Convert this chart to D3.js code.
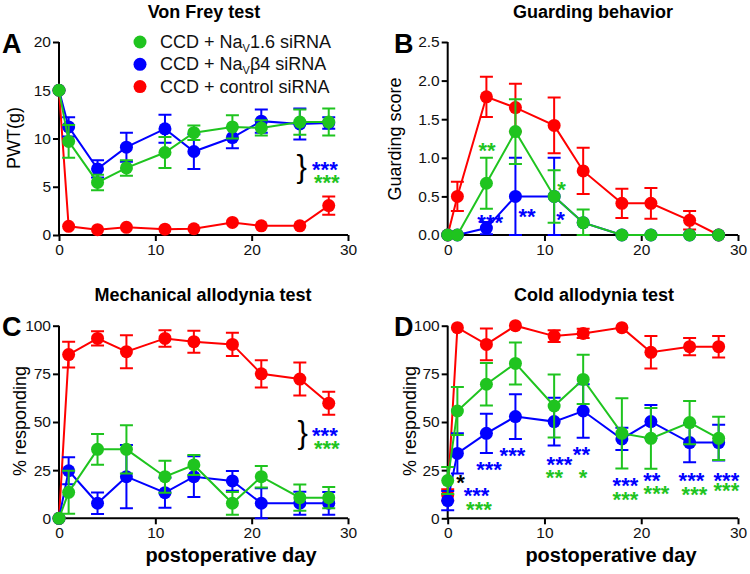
<!DOCTYPE html>
<html><head><meta charset="utf-8">
<script src="https://cdn.jsdelivr.net/npm/d3@7"></script>
<style>
body{margin:0;background:#fff}
svg text{font-family:Arial,"Liberation Sans",Helvetica,sans-serif}
</style>
</head><body>
<svg id="chart" width="750" height="574"></svg>
<script>
// ---------- DATA ----------
const days = [0, 1, 4, 7, 11, 14, 18, 21, 25, 28];
const xTicks = [0, 10, 20, 30];
const seriesKeys = ["green", "blue", "red"];
const legendLabels = [["CCD + Na", "V", "1.6 siRNA"], ["CCD + Na", "V", "β4 siRNA"], ["CCD + control siRNA", "", ""]];

// A: Von Frey
const vfYTicks = [0, 5, 10, 15, 20];
const vfGreen = [15, 9.7, 5.45, 6.95, 8.55, 10.6, 11.2, 11.1, 11.7, 11.7];
const vfGreenErr = [0, 1.7, 0.8, 0.8, 1.6, 0.75, 1.2, 0.8, 1.3, 1.4];
const vfBlue = [15, 11.2, 6.85, 9.1, 11.0, 8.65, 10.1, 11.8, 11.5, 11.6];
const vfBlueErr = [0, 1.0, 0.9, 1.5, 1.45, 1.8, 1.1, 1.2, 1.6, 0.6];
const vfRed = [15, 0.9, 0.55, 0.8, 0.6, 0.65, 1.3, 0.95, 0.95, 3.05];
const vfRedErr = [0, 0, 0, 0, 0, 0, 0, 0, 0, 0.95];

// B: Guarding
const gbYTicks = [0, 0.5, 1.0, 1.5, 2.0, 2.5];
const gbGreen = [0, 0, 0.67, 1.34, 0.5, 0.16, 0, 0, 0, 0];
const gbGreenErr = [0, 0, 0.33, 0.42, 0.34, 0.17, 0, 0, 0, 0];
const gbBlue = [0, 0, 0.09, 0.5, 0.5, 0.16, 0, 0, 0, 0];
const gbBlueErr = [0, 0, 0.08, 0.5, 0.5, 0, 0, 0, 0, 0];
const gbRed = [0, 0.5, 1.79, 1.65, 1.42, 0.83, 0.41, 0.41, 0.19, 0];
const gbRedErr = [0, 0.19, 0.26, 0.31, 0.36, 0.3, 0.19, 0.2, 0.12, 0];

// C: Mechanical allodynia
const pctYTicks = [0, 25, 50, 75, 100];
const maGreen = [0, 13.5, 35.8, 35.8, 21.6, 27.7, 7.8, 21.6, 10.7, 10.7];
const maGreenErr = [0, 11.2, 8, 12.5, 8.3, 5.2, 5.9, 5.6, 6.8, 5.5];
const maBlue = [0, 24.7, 7.8, 21.6, 13.3, 21.6, 19.4, 7.8, 7.8, 7.8];
const maBlueErr = [0, 7, 5.6, 16.4, 7.8, 10.6, 5.1, 7.8, 6, 5.9];
const maRed = [0, 85, 93.4, 86.5, 93.4, 91.7, 90.3, 75, 72.3, 59.7];
const maRedErr = [0, 6.7, 3.7, 8.6, 4.3, 5.7, 6, 7.1, 8.6, 6];

// D: Cold allodynia
const caGreen = [19.6, 55.7, 69.6, 80.4, 58.3, 72.1, 44.1, 41.5, 49.7, 41.5];
const caGreenErr = [7, 12.5, 11, 10.9, 16.4, 12.8, 18.2, 15.8, 11.2, 11.2];
const caBlue = [9.2, 33.7, 44.1, 52.8, 50.2, 55.7, 41.2, 50.2, 39.3, 39.3];
const caBlueErr = [5, 10.4, 10.2, 11.6, 12.4, 13.9, 5.8, 8.6, 10.2, 9.3];
const caRed = [12.1, 99, 90.3, 100, 94.6, 96, 99, 86.2, 89.1, 89.1];
const caRedErr = [3, 0, 8.2, 0, 3, 2.4, 0, 8.4, 4.5, 5.6];

// significance marks: [day, value, label, series]
const starsA = [[27.6, 7.36, "***", "blue"], [27.8, 6.0, "***", "green"]];
const braceA = [25.2, 6.84];
const starsB = [[4.06, 1.164, "**", "green"], [4.39, 0.233, "***", "blue"], [8.19, 0.30, "**", "blue"],
                [11.76, 0.66, "*", "green"], [11.65, 0.26, "*", "blue"]];
const starsC = [[27.6, 45.8, "***", "blue"], [27.8, 39.1, "***", "green"]];
const braceC = [25.3, 43.0];
const starsD = [[1.32, 21.4, "*", "black"],
  [2.98, 14.2, "***", "blue"], [3.23, 7.4, "***", "green"],
  [4.27, 28.2, "***", "blue"], [6.69, 35.4, "***", "blue"],
  [11.55, 30.8, "***", "blue"], [11.03, 24.0, "**", "green"],
  [13.82, 36.0, "**", "blue"], [13.98, 24.0, "*", "green"],
  [18.37, 19.9, "***", "blue"], [18.37, 12.6, "***", "green"],
  [21.1, 22.5, "**", "blue"], [21.57, 15.7, "***", "green"],
  [25.19, 22.0, "***", "blue"], [25.5, 15.2, "***", "green"],
  [28.8, 22.0, "***", "blue"], [28.8, 16.8, "***", "green"]];

// ---------- STYLE / LAYOUT ----------
const colors = {green: "#1fc41f", blue: "#0000ff", red: "#ff0000", black: "#000"};
const drawOrder = ["red", "blue", "green"];

const panels = [
  {letter: "A", lx: 2, ly: 53, title: "Von Frey test", tx: 204, ty: 18,
   x0: 59, x1: 348, yTop: 42, yBot: 235, yMax: 20, yTicks: vfYTicks, fmt: d3.format("d"),
   ylab: "PWT(g)", ylx: 20, yly: 138, xlab: null,
   data: {green: [vfGreen, vfGreenErr], blue: [vfBlue, vfBlueErr], red: [vfRed, vfRedErr]},
   stars: starsA, brace: braceA},
  {letter: "B", lx: 394, ly: 53, title: "Guarding behavior", tx: 593, ty: 18,
   x0: 447.7, x1: 738, yTop: 42, yBot: 235, yMax: 2.5, yTicks: gbYTicks, fmt: d3.format(".1f"),
   ylab: "Guarding score", ylx: 401, yly: 139, xlab: null,
   data: {green: [gbGreen, gbGreenErr], blue: [gbBlue, gbBlueErr], red: [gbRed, gbRedErr]},
   stars: starsB, brace: null},
  {letter: "C", lx: 2, ly: 336, title: "Mechanical allodynia test", tx: 203, ty: 301,
   x0: 59, x1: 348, yTop: 325.7, yBot: 518.3, yMax: 100, yTicks: pctYTicks, fmt: d3.format("d"),
   ylab: "% responding", ylx: 26, yly: 421, xlab: "postoperative day", xlx: 231, xly: 562,
   data: {green: [maGreen, maGreenErr], blue: [maBlue, maBlueErr], red: [maRed, maRedErr]},
   stars: starsC, brace: braceC},
  {letter: "D", lx: 394, ly: 336, title: "Cold allodynia test", tx: 594, ty: 301,
   x0: 447.7, x1: 738, yTop: 325.7, yBot: 518.3, yMax: 100, yTicks: pctYTicks, fmt: d3.format("d"),
   ylab: "% responding", ylx: 416, yly: 421, xlab: "postoperative day", xlx: 611, xly: 562,
   data: {green: [caGreen, caGreenErr], blue: [caBlue, caBlueErr], red: [caRed, caRedErr]},
   stars: starsD, brace: null}
];

const svg = d3.select("#chart");
const R = 6.5, CAP = 6.5, SW = 2;

panels.forEach(p => {
  const x = d3.scaleLinear().domain([0, 30]).range([p.x0, p.x1]);
  const y = d3.scaleLinear().domain([0, p.yMax]).range([p.yBot, p.yTop]);
  const g = svg.append("g");

  // axes
  const xa = g.append("g").attr("transform", `translate(0,${p.yBot})`)
    .call(d3.axisBottom(x).tickValues(xTicks).tickSize(6).tickPadding(3).tickFormat(d3.format("d")));
  const ya = g.append("g").attr("transform", `translate(${p.x0},0)`)
    .call(d3.axisLeft(y).tickValues(p.yTicks).tickSize(6).tickPadding(2).tickFormat(p.fmt));
  [xa, ya].forEach(a => {
    a.select(".domain").attr("stroke", "#000").attr("stroke-width", 2);
    a.selectAll(".tick line").attr("stroke", "#000").attr("stroke-width", 2);
    a.selectAll(".tick text").attr("fill", "#111").style("font-size", "15.5px");
  });
  xa.select(".domain").attr("d", `M${p.x0},0H${p.x1}`);
  ya.select(".domain").attr("d", `M0,${p.yBot}V${p.yTop}`);

  // series
  drawOrder.forEach(k => {
    const [vals, errs] = p.data[k];
    const pts = days.map((d, i) => ({d, v: vals[i], e: errs[i]}));
    const c = colors[k];
    const sg = g.append("g");
    // error bars
    pts.filter(q => q.e > 0).forEach(q => {
      const cx = x(q.d), yh = y(q.v + q.e), yl = y(Math.max(0, q.v - q.e));
      sg.append("path")
        .attr("d", `M${cx},${yh}V${yl}M${cx - CAP},${yh}H${cx + CAP}M${cx - CAP},${yl}H${cx + CAP}`)
        .attr("stroke", c).attr("stroke-width", SW).attr("fill", "none");
    });
    sg.append("path").datum(pts)
      .attr("d", d3.line().x(q => x(q.d)).y(q => y(q.v)))
      .attr("stroke", c).attr("stroke-width", SW).attr("fill", "none");
    sg.selectAll("circle").data(pts).join("circle")
      .attr("cx", q => x(q.d)).attr("cy", q => y(q.v)).attr("r", R).attr("fill", c);
  });

  // stars
  const FS = 22;
  g.selectAll("text.star").data(p.stars).join("text").attr("class", "star")
    .attr("x", s => x(s[0])).attr("y", s => y(s[1]) + FS * 0.57)
    .attr("text-anchor", "middle").attr("fill", s => colors[s[3]])
    .style("font-size", FS + "px").style("font-weight", "bold").text(s => s[2]);
  if (p.brace) {
    g.append("text").attr("x", x(p.brace[0])).attr("y", y(p.brace[1]) + 8)
      .attr("text-anchor", "middle").style("font-size", "31px").attr("fill", "#000").text("}");
  }

  // labels
  g.append("text").attr("x", p.lx).attr("y", p.ly).style("font-size", "27px").style("font-weight", "bold").text(p.letter);
  g.append("text").attr("x", p.tx).attr("y", p.ty).attr("text-anchor", "middle")
    .style("font-size", "18px").style("font-weight", "bold").text(p.title);
  g.append("text").attr("transform", `translate(${p.ylx},${p.yly}) rotate(-90)`)
    .attr("text-anchor", "middle").style("font-size", "18px").text(p.ylab);
  if (p.xlab) {
    g.append("text").attr("x", p.xlx).attr("y", p.xly).attr("text-anchor", "middle")
      .style("font-size", "20px").style("font-weight", "bold").text(p.xlab);
  }
});

// legend (panel A)
const lg = svg.append("g");
seriesKeys.forEach((k, i) => {
  const yy = 48 + i * 22.3;
  lg.append("circle").attr("cx", 140).attr("cy", yy - 6).attr("r", R).attr("fill", colors[k]);
  const t = lg.append("text").attr("x", 160).attr("y", yy).style("font-size", "18px").attr("fill", "#111");
  const parts = legendLabels[i];
  t.append("tspan").text(parts[0]);
  if (parts[1]) {
    t.append("tspan").attr("dy", 4).style("font-size", "11px").text(parts[1]);
    t.append("tspan").attr("dy", -4).text(parts[2]);
  }
});
</script>
</body></html>
